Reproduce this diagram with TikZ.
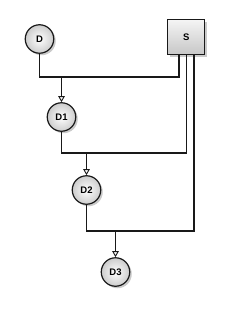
\documentclass[tikz,border=0pt]{standalone}
\usepackage{fontspec}
\setmainfont{Liberation Sans}
\usetikzlibrary{arrows.meta,shadows}
\begin{document}
\begin{tikzpicture}[x=1pt,y=-1pt,line width=1.2pt,
  dnode/.style={circle,draw=black!90,line width=1.2pt,minimum size=28.5pt,inner sep=0pt,
    inner color=white,outer color=black!20,
    font=\bfseries\fontsize{9.5}{10}\selectfont,
    drop shadow={shadow xshift=2pt,shadow yshift=-2pt,opacity=0.35,fill=black!60}},
  snode/.style={rectangle,draw=black!90,line width=1.2pt,minimum width=37pt,minimum height=35pt,inner sep=0pt,
    top color=black!4,bottom color=black!22,
    font=\bfseries\fontsize{9.5}{10}\selectfont,
    drop shadow={shadow xshift=2.5pt,shadow yshift=-2.5pt,opacity=0.35,fill=black!60}},
  wire/.style={draw=black!90,line width=1.2pt},
  arr/.style={wire,-{Triangle[length=6pt,width=6.5pt,fill=white,line width=0.9pt]}}]
\useasboundingbox (0,0) rectangle (229,320);
\node[dnode] (D) at (39.5,39) {D};
\node[snode] (S) at (186.2,36.8) {S};
\node[dnode] (D1) at (61.5,117) {D1};
\node[dnode] (D2) at (86.5,190) {D2};
\node[dnode] (D3) at (115.5,272) {D3};
\coordinate (s1) at (179,54.3);
\coordinate (s2) at (186.5,54.3);
\coordinate (s3) at (194,54.3);
\coordinate (h1) at (179,77);
\coordinate (h2) at (186.5,153);
\coordinate (h3) at (194,231);
\draw[wire] (D.south) |- (h1) -- (s1);
\draw[arr] (D1.north |- h1) -- (D1.north);
\draw[wire] (D1.south) |- (h2) -- (s2);
\draw[arr] (D2.north |- h2) -- (D2.north);
\draw[wire] (D2.south) |- (h3) -- (s3);
\draw[arr] (D3.north |- h3) -- (D3.north);
\end{tikzpicture}
\end{document}
